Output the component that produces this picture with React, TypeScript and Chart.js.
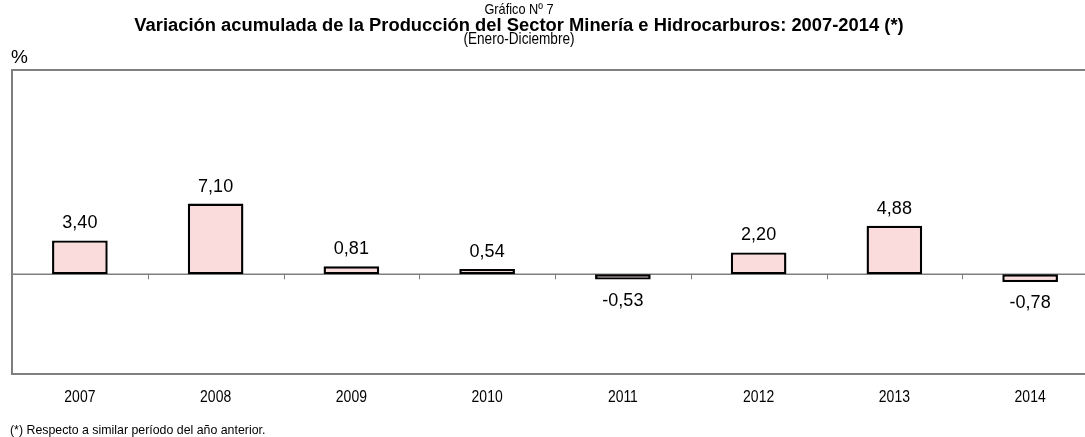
import React, { useEffect, useRef } from "react";
import { Chart, registerables } from "chart.js";

Chart.register(...registerables);

const categories = ["2007", "2008", "2009", "2010", "2011", "2012", "2013", "2014"];
const values = [3.4, 7.1, 0.81, 0.54, -0.53, 2.2, 4.88, -0.78];
const yMin = -10;
const yMax = 20.5;

const titleLine1 = "Gráfico Nº 7";
const titleLine2 = "Variación acumulada de la Producción del Sector Minería e Hidrocarburos: 2007-2014 (*)";
const titleLine3 = "(Enero-Diciembre)";
const unitLabel = "%";
const footnote = "(*) Respecto a similar período del año anterior.";

const SANS = '"Liberation Sans", Arial, sans-serif';

const fmt = (v: number) => v.toFixed(2).replace(".", ",");

function drawText(ctx: CanvasRenderingContext2D, text: string, x: number, y: number, font: string, scaleX: number, align: CanvasTextAlign) {
  ctx.save();
  ctx.font = font;
  ctx.textAlign = align;
  ctx.textBaseline = "middle";
  ctx.translate(x, y);
  ctx.scale(scaleX, 1);
  ctx.fillText(text, 0, 0);
  ctx.restore();
}

const decorPlugin = {
  id: "decor",
  beforeDatasetsDraw(chart: any) {
    const { ctx, chartArea, scales } = chart;
    const x = scales.x;
    const y = scales.y;
    const zeroY = y.getPixelForValue(0);
    ctx.save();
    ctx.strokeStyle = "#7f7f7f";
    ctx.lineWidth = 2;
    ctx.beginPath();
    ctx.moveTo(chart.width + 5, chartArea.top);
    ctx.lineTo(chartArea.left, chartArea.top);
    ctx.lineTo(chartArea.left, chartArea.bottom);
    ctx.lineTo(chart.width + 5, chartArea.bottom);
    ctx.stroke();
    ctx.lineWidth = 1.5;
    ctx.beginPath();
    ctx.moveTo(chartArea.left, zeroY);
    ctx.lineTo(chartArea.right, zeroY);
    ctx.stroke();
    const step = x.getPixelForValue(1) - x.getPixelForValue(0);
    ctx.lineWidth = 1;
    for (let i = 0; i <= categories.length; i++) {
      const px = Math.round(x.getPixelForValue(0) - step / 2 + i * step) + 0.5;
      ctx.beginPath();
      ctx.moveTo(px, zeroY);
      ctx.lineTo(px, zeroY + 5);
      ctx.stroke();
    }
    ctx.restore();
  },
  afterDatasetsDraw(chart: any) {
    const { ctx, chartArea, scales } = chart;
    const x = scales.x;
    const y = scales.y;
    ctx.save();
    ctx.fillStyle = "#000";
    values.forEach((v, i) => {
      const px = x.getPixelForValue(i);
      const py = y.getPixelForValue(v);
      const ly = v >= 0 ? py - 17 : py + 21;
      drawText(ctx, fmt(v), px, ly, `18px ${SANS}`, 1, "center");
    });
    categories.forEach((c, i) => {
      drawText(ctx, c, x.getPixelForValue(i), chartArea.bottom + 23, `17px ${SANS}`, 0.82, "center");
    });
    const cx = 519;
    drawText(ctx, titleLine1, cx, 10, `15px ${SANS}`, 0.85, "center");
    drawText(ctx, titleLine2, cx, 26, `bold 18px ${SANS}`, 1.02, "center");
    drawText(ctx, titleLine3, cx, 40, `16px ${SANS}`, 0.85, "center");
    drawText(ctx, unitLabel, 11, 58, `19px ${SANS}`, 1, "left");
    drawText(ctx, footnote, 10, 430, `13px ${SANS}`, 0.95, "left");
    ctx.restore();
  },
};

export default function App() {
  const ref = useRef<HTMLCanvasElement | null>(null);
  useEffect(() => {
    if (!ref.current) return;
    document.body.style.margin = "0";
    document.body.style.overflow = "hidden";
    const chart = new Chart(ref.current, {
      type: "bar",
      data: {
        labels: categories,
        datasets: [
          {
            data: values,
            backgroundColor: "#fadcdc",
            borderColor: "#000000",
            borderWidth: 2.4,
            borderSkipped: false,
            barPercentage: 0.41,
            categoryPercentage: 1,
          },
        ],
      },
      options: {
        animation: false,
        responsive: false,
        maintainAspectRatio: false,
        layout: { padding: { left: 12, right: 2, top: 70, bottom: 63 } },
        plugins: {
          legend: { display: false },
          tooltip: { enabled: false },
          title: { display: false },
        },
        scales: {
          x: { display: false, offset: true },
          y: { display: false, min: yMin, max: yMax },
        },
      },
      plugins: [decorPlugin],
    });
    return () => chart.destroy();
  }, []);
  return (
    <div style={{ position: "fixed", left: 0, top: 0, width: 1085, height: 437, overflow: "hidden", background: "#fff" }}>
      <canvas ref={ref} width={1100} height={437} style={{ display: "block", width: 1100, height: 437 }} />
    </div>
  );
}
